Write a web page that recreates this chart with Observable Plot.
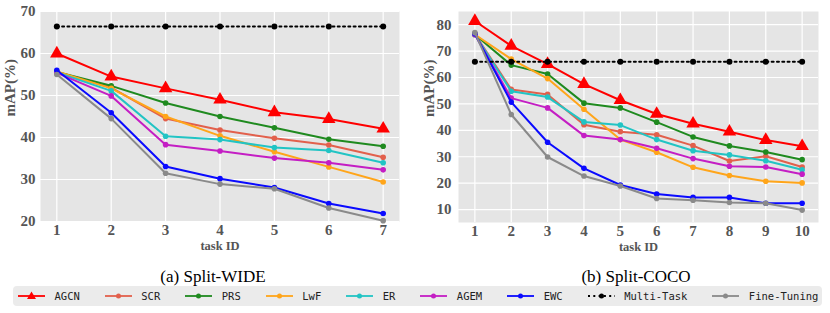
<!DOCTYPE html>
<html>
<head>
<meta charset="utf-8">
<script src="https://cdn.jsdelivr.net/npm/d3@7"></script>
<script src="https://cdn.jsdelivr.net/npm/@observablehq/plot@0.6"></script>
<style>
  body { margin: 0; background: #fff; }
  #wrap { position: relative; width: 830px; height: 313px; overflow: hidden; background: #fff; }
  .chart { position: absolute; top: 0; }
  .chart svg text { font-family: "Liberation Serif", serif !important; font-weight: bold; }
  .cap { position: absolute; top: 266.5px; font-family: "Liberation Serif", serif; font-size: 17px; color: #000; transform: translateX(-50%); white-space: nowrap; line-height: 20px; }
  #legend { position: absolute; left: 13px; top: 286px; width: 809px; height: 20px; background: #ebebeb; border-radius: 4px; display: flex; align-items: center; gap: 25px; padding-left: 5px; box-sizing: border-box; }
  .item { display: flex; align-items: center; flex-shrink: 0; white-space: nowrap; font-family: "DejaVu Sans Mono", monospace; font-size: 10.5px; color: #222; }
  .item svg { margin-right: 9.5px; flex-shrink: 0; }
</style>
</head>
<body>
<div id="wrap">
  <div id="c1" class="chart" style="left:0"></div>
  <div id="c2" class="chart" style="left:415px"></div>
  <div class="cap" style="left:213px">(a) Split-WIDE</div>
  <div class="cap" style="left:636px">(b) Split-COCO</div>
  <div id="legend"></div>
</div>
<script>
// ---------- data ----------
const methods = ["AGCN", "SCR", "PRS", "LwF", "ER", "AGEM", "EWC", "Multi-Task", "Fine-Tuning"];

const wideTasks = [1, 2, 3, 4, 5, 6, 7];
const wideYTicks = [20, 30, 40, 50, 60, 70];
const wideAGCN = [60.0, 54.5, 51.7, 49.0, 46.0, 44.4, 42.1];
const wideSCR  = [55.6, 51.9, 44.5, 41.8, 39.8, 38.2, 35.3];
const widePRS  = [55.6, 52.3, 48.2, 45.0, 42.3, 39.6, 37.9];
const wideLwF  = [55.7, 51.7, 45.0, 40.4, 36.6, 33.0, 29.4];
const wideER   = [55.5, 51.1, 40.3, 39.5, 37.6, 36.9, 34.0];
const wideAGEM = [55.4, 49.9, 38.3, 36.8, 35.1, 34.0, 32.3];
const wideEWC  = [56.0, 45.9, 33.1, 30.2, 28.1, 24.3, 21.9];
const wideMulti = [66.4, 66.4, 66.4, 66.4, 66.4, 66.4, 66.4];
const wideFT   = [55.0, 44.5, 31.5, 28.9, 27.8, 23.2, 20.2];

const cocoTasks = [1, 2, 3, 4, 5, 6, 7, 8, 9, 10];
const cocoYTicks = [10, 20, 30, 40, 50, 60, 70, 80];
const cocoAGCN = [81.4, 72.0, 65.1, 57.5, 51.4, 46.2, 42.5, 39.5, 36.3, 34.0];
const cocoSCR  = [76.5, 55.5, 53.6, 42.1, 39.5, 38.3, 34.2, 28.4, 30.2, 26.1];
const cocoPRS  = [76.3, 64.7, 61.3, 50.3, 48.5, 43.1, 37.5, 34.1, 31.8, 28.9];
const cocoLwF  = [76.3, 67.0, 59.6, 48.0, 36.5, 31.7, 26.0, 22.9, 20.7, 20.1];
const cocoER   = [76.3, 54.8, 52.6, 43.2, 42.0, 36.5, 32.3, 30.7, 28.5, 25.1];
const cocoAGEM = [76.3, 52.2, 48.5, 38.0, 36.5, 33.2, 29.3, 26.4, 26.1, 23.4];
const cocoEWC  = [76.6, 50.7, 35.5, 25.6, 19.3, 15.9, 14.6, 14.6, 12.4, 12.4];
const cocoMulti = [66.0, 66.0, 66.0, 66.0, 66.0, 66.0, 66.0, 66.0, 66.0, 66.0];
const cocoFT   = [77.0, 46.0, 29.9, 22.7, 18.9, 14.2, 13.5, 12.7, 12.4, 9.8];

// ---------- styles ----------
const colors = ["#ff0000", "#e2604c", "#1f8a1f", "#ffa51a", "#22c4c4", "#c41ec4", "#0a0aff", "#000000", "#8a8a8a"];
const serif = "Liberation Serif";

const wideSeries = [wideAGCN, wideSCR, widePRS, wideLwF, wideER, wideAGEM, wideEWC, wideMulti, wideFT];
const cocoSeries = [cocoAGCN, cocoSCR, cocoPRS, cocoLwF, cocoER, cocoAGEM, cocoEWC, cocoMulti, cocoFT];

function seriesMarks(tasks, series) {
  const marks = [];
  methods.forEach((m, i) => {
    const rows = tasks.map((t, j) => ({task: t, value: series[i][j], method: m}));
    const c = colors[i];
    if (m === "Multi-Task") {
      marks.push(Plot.line(rows, {x: "task", y: "value", stroke: c, strokeWidth: 2, strokeDasharray: "2 3.3"}));
      marks.push(Plot.dot(rows, {x: "task", y: "value", r: 3, fill: c}));
    } else if (m === "AGCN") {
      marks.push(Plot.line(rows, {x: "task", y: "value", stroke: c, strokeWidth: 2}));
      marks.push(Plot.dot(rows, {x: "task", y: "value", r: 5, symbol: "triangle", fill: c}));
    } else {
      marks.push(Plot.line(rows, {x: "task", y: "value", stroke: c, strokeWidth: 2}));
      marks.push(Plot.dot(rows, {x: "task", y: "value", r: 2.8, fill: c}));
    }
  });
  return marks;
}

function makeChart(tasks, series, yTicks, o) {
  return Plot.plot({
    width: 415,
    height: 255,
    marginLeft: o.ml, marginRight: o.mr, marginTop: o.mt, marginBottom: o.mb,
    x: {domain: o.xd},
    y: {domain: o.yd},
    style: {fontFamily: serif, fontWeight: "bold", fontSize: "15px", color: "#555", background: "#fff"},
    marks: [
      Plot.frame({fill: "#e5e5e5", stroke: "none"}),
      Plot.gridX(tasks, {stroke: "#fff", strokeOpacity: 1, strokeWidth: 1.2}),
      Plot.gridY(yTicks, {stroke: "#fff", strokeOpacity: 1, strokeWidth: 1.2}),
      Plot.axisX(tasks, {tickSize: 0, tickPadding: 3, label: null, fill: "#555", fontSize: 15, fontFamily: serif, fontWeight: "bold"}),
      Plot.axisY(yTicks, {tickSize: 0, tickPadding: o.yp, label: null, fill: "#555", fontSize: 15, fontFamily: serif, fontWeight: "bold"}),
      Plot.text(["task ID"], {text: d => d, frameAnchor: "bottom", dy: 28.5, fontSize: 12.5, fontFamily: serif, fontWeight: "bold", fill: "#555"}),
      Plot.text(["mAP(%)"], {text: d => d, frameAnchor: "left", rotate: -90, dx: o.ylx, fontSize: 15, fontFamily: serif, fontWeight: "bold", fill: "#555"}),
      ...seriesMarks(tasks, series)
    ]
  });
}

document.getElementById("c1").append(makeChart(wideTasks, wideSeries, wideYTicks,
  {ml: 40, mr: 16, mt: 11, mb: 34, xd: [0.7, 7.3], yd: [20, 70], yp: 5, ylx: -30}));
document.getElementById("c2").append(makeChart(cocoTasks, cocoSeries, cocoYTicks,
  {ml: 43, mr: 12, mt: 11, mb: 33, xd: [0.55, 10.45], yd: [5.1, 85.0], yp: 7, ylx: -29}));

// ---------- legend ----------
const legend = document.getElementById("legend");
methods.forEach((m, i) => {
  const c = colors[i];
  const item = document.createElement("div");
  item.className = "item";
  let marker;
  if (m === "AGCN") marker = `<path d="M13.5,5.5 L18,13 L9,13 Z" fill="${c}"/>`;
  else marker = `<circle cx="13.5" cy="10" r="2.5" fill="${c}"/>`;
  const dash = m === "Multi-Task" ? ` stroke-dasharray="2 3.3"` : "";
  item.innerHTML = `<svg width="27" height="20"><line x1="0" x2="27" y1="10" y2="10" stroke="${c}" stroke-width="1.8"${dash}/>${marker}</svg><span>${m}</span>`;
  legend.append(item);
});
</script>
</body>
</html>
